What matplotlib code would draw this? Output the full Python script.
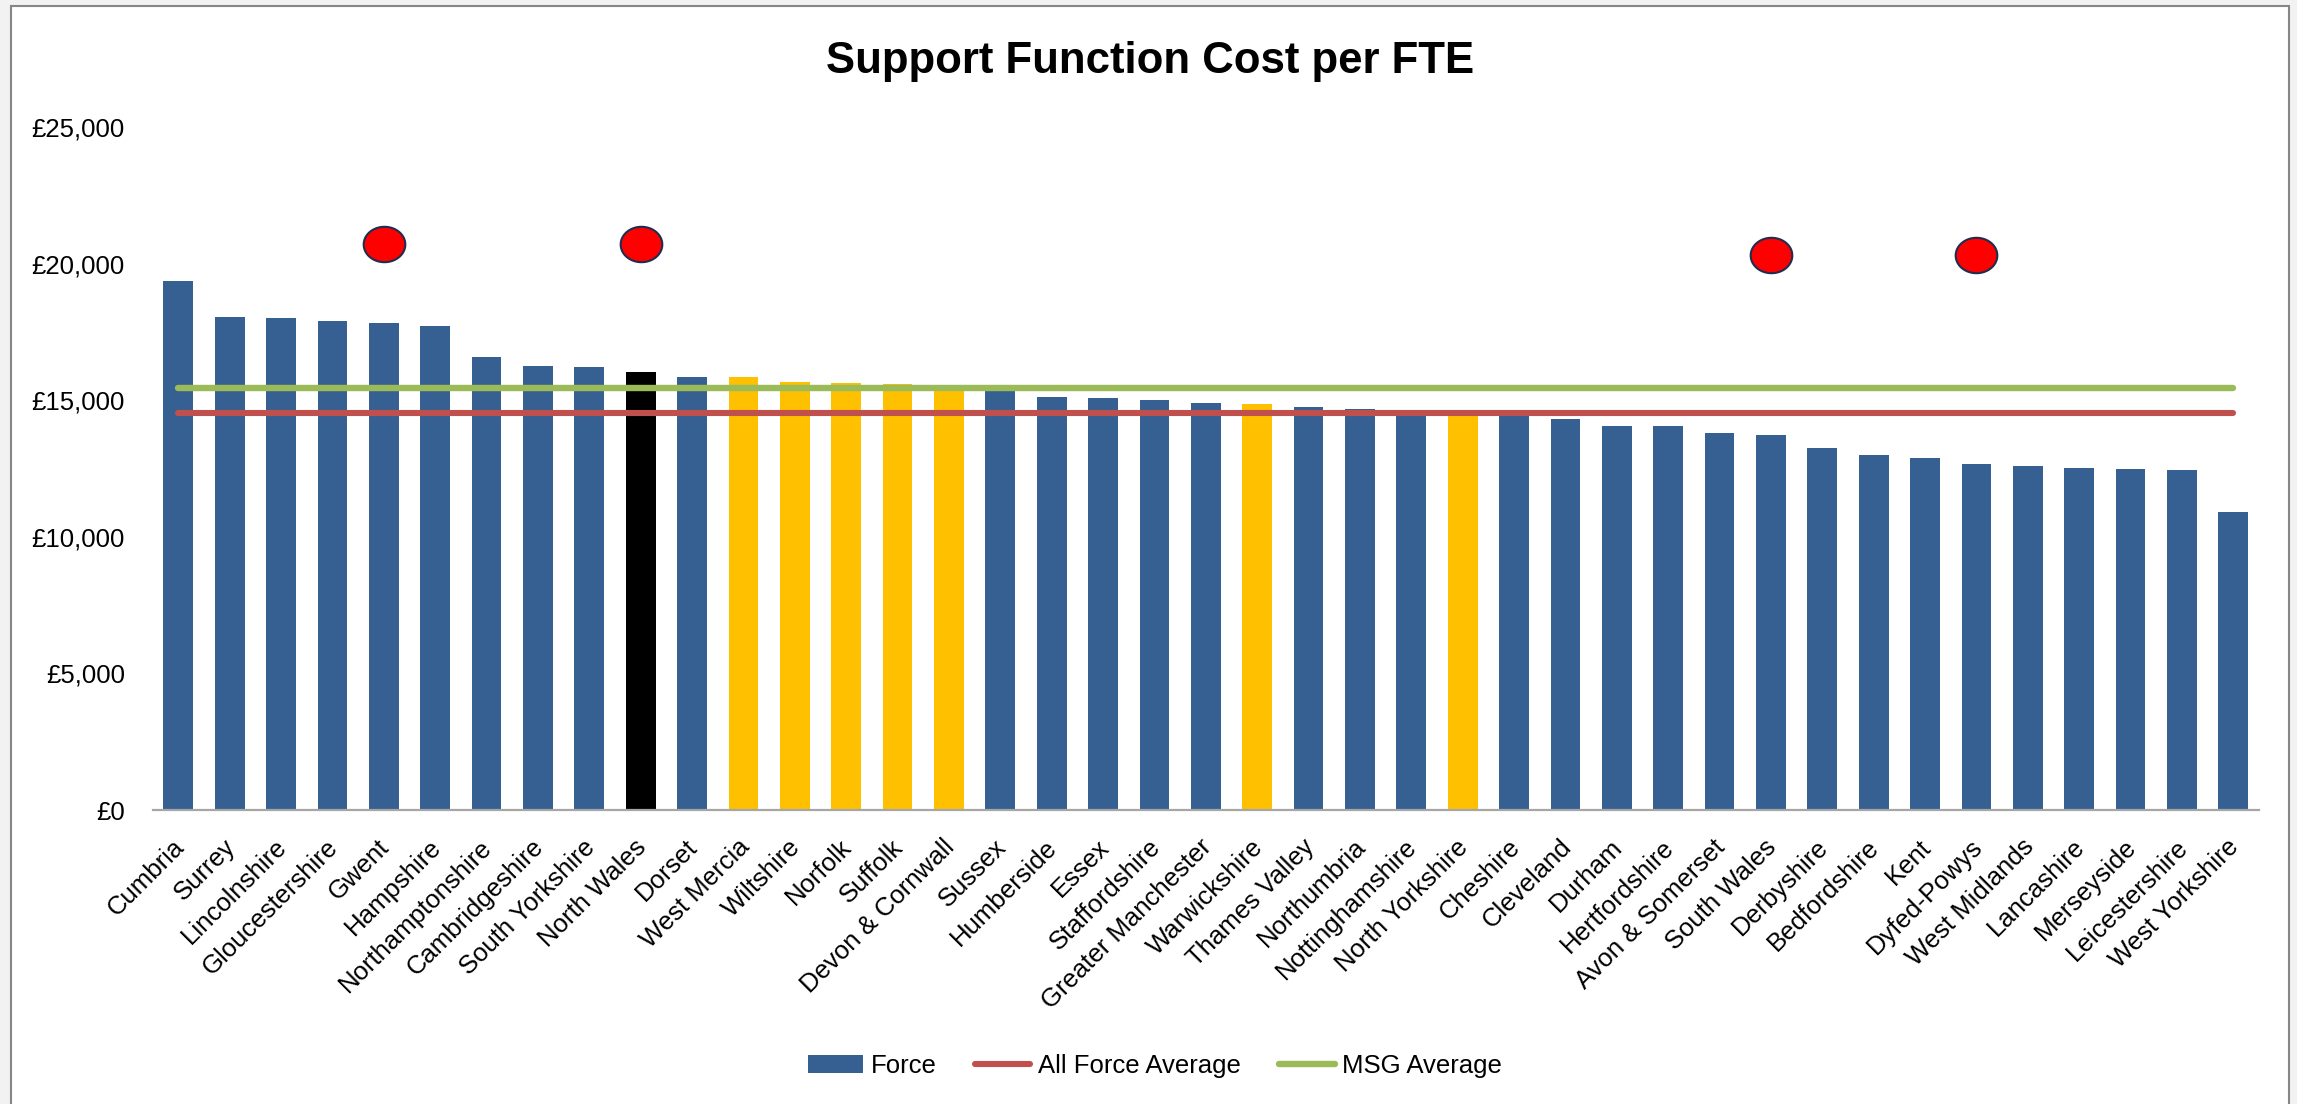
import matplotlib
matplotlib.use('Agg')
import matplotlib.pyplot as plt
import matplotlib.transforms as mtransforms
from matplotlib.patches import Rectangle, Patch
from matplotlib.lines import Line2D
from matplotlib.path import Path
from matplotlib.ticker import FuncFormatter
import numpy as np

plt.rcParams['font.family'] = ['Liberation Sans', 'DejaVu Sans']

# ---- data -------------------------------------------------------------
forces = ['Cumbria', 'Surrey', 'Lincolnshire', 'Gloucestershire', 'Gwent', 'Hampshire',
          'Northamptonshire', 'Cambridgeshire', 'South Yorkshire', 'North Wales', 'Dorset',
          'West Mercia', 'Wiltshire', 'Norfolk', 'Suffolk', 'Devon & Cornwall', 'Sussex',
          'Humberside', 'Essex', 'Staffordshire', 'Greater Manchester', 'Warwickshire',
          'Thames Valley', 'Northumbria', 'Nottinghamshire', 'North Yorkshire', 'Cheshire',
          'Cleveland', 'Durham', 'Hertfordshire', 'Avon & Somerset', 'South Wales',
          'Derbyshire', 'Bedfordshire', 'Kent', 'Dyfed-Powys', 'West Midlands', 'Lancashire',
          'Merseyside', 'Leicestershire', 'West Yorkshire']
cost_per_fte = [19350, 18030, 18010, 17910, 17830, 17720,
                16580, 16260, 16220, 16040, 15860,
                15845, 15676, 15640, 15608, 15470, 15380,
                15115, 15088, 15000, 14893, 14862,
                14745, 14668, 14570, 14530, 14500,
                14300, 14060, 14050, 13787, 13730,
                13263, 12990, 12875, 12667, 12590, 12513,
                12476, 12436, 10908]

msg_forces = ['West Mercia', 'Wiltshire', 'Norfolk', 'Suffolk', 'Devon & Cornwall',
              'Warwickshire', 'North Yorkshire']
home_force = 'North Wales'

all_force_average = 14517
msg_average = 15446

flagged_forces = ['Gwent', 'North Wales', 'South Wales', 'Dyfed-Powys']
flag_heights = [20700, 20700, 20300, 20300]

y_ticks = [0, 5000, 10000, 15000, 20000, 25000]

# ---- styles -----------------------------------------------------------
BLUE = '#376092'
GOLD = '#FFC000'
RED_LINE = '#C0504D'
GREEN_LINE = '#9BBB59'

W, H, DPI = 2297, 1104, 100
fig = plt.figure(figsize=(W / DPI, H / DPI), dpi=DPI)
fig.patch.set_facecolor('#f2f2f2')

# chart area frame (behind the axes)
fig.patches.append(Rectangle((11 / W, -0.02), (2289 - 11) / W, 1.02 - 6 / H,
                             transform=fig.transFigure, facecolor='white',
                             edgecolor='#868686', linewidth=1.5, zorder=-10))

ax = fig.add_axes([152.6 / W, (H - 810) / H, (2259 - 152.6) / W, (810 - 127) / H])
ax.set_facecolor('none')

x = np.arange(len(forces))
colors = []
for f in forces:
    if f == home_force:
        colors.append('black')
    elif f in msg_forces:
        colors.append(GOLD)
    else:
        colors.append(BLUE)

ax.bar(x, cost_per_fte, width=0.58, color=colors, zorder=2)

# average lines across the categories
ax.plot([x[0], x[-1]], [all_force_average, all_force_average], color=RED_LINE,
        linewidth=4.4, solid_capstyle='round', zorder=3)
ax.plot([x[0], x[-1]], [msg_average, msg_average], color=GREEN_LINE,
        linewidth=4.6, solid_capstyle='round', zorder=3)

# red flag ellipses (slightly wider than tall)
t = np.linspace(0, 2 * np.pi, 60)
ellipse = Path(np.column_stack([np.cos(t), 0.85 * np.sin(t)]))
flag_x = [forces.index(f) for f in flagged_forces]
ax.scatter(flag_x, flag_heights, marker=ellipse, s=900, facecolor='#FF0000',
           edgecolor='#1F2D50', linewidth=1.5, zorder=4)

# axes formatting
ax.set_xlim(-0.5, len(forces) - 0.5)
ax.set_ylim(y_ticks[0], y_ticks[-1])
ax.set_yticks(y_ticks)
ax.yaxis.set_major_formatter(FuncFormatter(lambda v, p: f'£{v:,.0f}'))
ax.tick_params(axis='y', length=0, pad=20, labelsize=18.5)
ax.set_xticks(x)
ax.set_xticklabels(forces, rotation=45, ha='right', va='center',
                   rotation_mode='anchor', fontsize=18.5)
ax.tick_params(axis='x', length=0, pad=24)
shift = mtransforms.ScaledTranslation(2 / DPI, 0, fig.dpi_scale_trans)
for lbl in ax.get_xticklabels():
    lbl.set_transform(lbl.get_transform() + shift)

for side in ['top', 'right', 'left']:
    ax.spines[side].set_visible(False)
ax.spines['bottom'].set_color('#a6a6a6')
ax.spines['bottom'].set_linewidth(1.6)
ax.spines['bottom'].set_zorder(5)

fig.text(1150 / W, 1 - 61 / H, 'Support Function Cost per FTE', ha='center', va='center',
         fontsize=31.5, fontweight='bold')

handles = [Patch(facecolor=BLUE, edgecolor='none'),
           Line2D([], [], color=RED_LINE, linewidth=4.4, solid_capstyle='round'),
           Line2D([], [], color=GREEN_LINE, linewidth=4.6, solid_capstyle='round')]
fig.legend(handles, ['Force', 'All Force Average', 'MSG Average'],
           loc='center', bbox_to_anchor=(1155 / W, 1 - 1066 / H), ncol=3,
           frameon=False, fontsize=18.5, handlelength=2.15, handletextpad=0.3,
           columnspacing=1.5)

fig.savefig('out.png', dpi=DPI, facecolor=fig.get_facecolor())
